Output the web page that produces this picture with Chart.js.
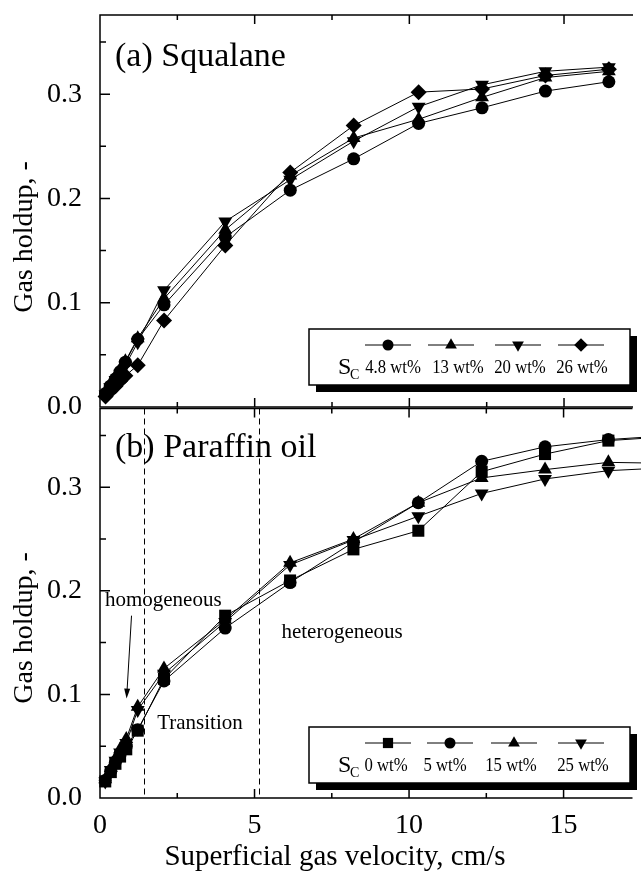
<!DOCTYPE html>
<html lang="en">
<head>
<meta charset="UTF-8">
<title>Gas holdup vs superficial gas velocity</title>
<script src="https://cdn.jsdelivr.net/npm/chart.js"></script>
<style>
  html, body { margin: 0; padding: 0; background: #fff; overflow: hidden; }
  #wrap { position: relative; width: 641px; height: 883px; }
  canvas { position: absolute; left: 0; }
  #chartA { top: 0; }
  #chartB { top: 400px; }
</style>
</head>
<body>
<div id="wrap">
  <canvas id="chartA" width="641" height="425"></canvas>
  <canvas id="chartB" width="641" height="483"></canvas>
</div>
<script>
// ---- data ----
// (a) Squalane, superficial gas velocity in cm/s
const velA = [0.18, 0.33, 0.5, 0.65, 0.82, 1.22, 2.07, 4.05, 6.15, 8.2, 10.3, 12.35, 14.4, 16.45];
const squalane48 = [0.013, 0.020, 0.027, 0.034, 0.043, 0.065, 0.098, 0.163, 0.208, 0.238, 0.272, 0.287, 0.303, 0.312];
const squalane13 = [0.014, 0.022, 0.029, 0.036, 0.044, 0.066, 0.104, 0.170, 0.222, 0.258, 0.276, 0.297, 0.316, 0.322];
const squalane20 = [0.012, 0.019, 0.026, 0.032, 0.040, 0.062, 0.112, 0.178, 0.218, 0.255, 0.288, 0.309, 0.322, 0.326];
const squalane26 = [0.010, 0.015, 0.020, 0.025, 0.030, 0.040, 0.083, 0.155, 0.225, 0.270, 0.302, 0.305, 0.318, 0.324];
const labelsA = ['4.8 wt%', '13 wt%', '20 wt%', '26 wt%'];

// (b) Paraffin oil (last point lies past the right edge of the frame)
const velB = [0.17, 0.35, 0.5, 0.65, 0.85, 1.22, 2.07, 4.05, 6.15, 8.2, 10.3, 12.35, 14.4, 16.45, 18.5];
const paraffin0  = [0.016, 0.025, 0.033, 0.040, 0.047, 0.065, 0.115, 0.176, 0.210, 0.240, 0.258, 0.315, 0.332, 0.345, 0.349];
const paraffin5  = [0.017, 0.026, 0.035, 0.042, 0.050, 0.066, 0.113, 0.164, 0.208, 0.247, 0.285, 0.325, 0.339, 0.346, 0.350];
const paraffin15 = [0.018, 0.029, 0.038, 0.047, 0.057, 0.088, 0.125, 0.172, 0.227, 0.250, 0.285, 0.309, 0.317, 0.324, 0.323];
const paraffin25 = [0.016, 0.027, 0.036, 0.044, 0.053, 0.085, 0.120, 0.170, 0.225, 0.249, 0.272, 0.294, 0.308, 0.316, 0.319];
const labelsB = ['0 wt%', '5 wt%', '15 wt%', '25 wt%'];

const xTicks = [0, 5, 10, 15];
const xMinorTicks = [2.5, 7.5, 12.5];
const yTicks = [0, 0.1, 0.2, 0.3];
const yMinorTicks = [0.05, 0.15, 0.25, 0.35];
const regimeBounds = [1.43, 5.13];

// ---- styles ----
const FONT = '"Liberation Serif", "Times New Roman", serif';
const X_MAX = 17.23, Y_MAX = 0.376;
const markersA = [
  { style: 'circle', r: 6.5, rot: 0 },
  { style: 'triangle', r: 8, rot: 0 },
  { style: 'triangle', r: 8, rot: 180 },
  { style: 'rectRot', r: 8, rot: 0 }
];
const markersB = [
  { style: 'rect', r: 8.5, rot: 0 },
  { style: 'circle', r: 6.5, rot: 0 },
  { style: 'triangle', r: 8, rot: 0 },
  { style: 'triangle', r: 8, rot: 180 }
];

function makeDatasets(vel, series, markers, labels) {
  return series.map((vals, i) => ({
    label: labels[i],
    data: vals.map((v, j) => ({ x: vel[j], y: v })),
    borderColor: '#000',
    borderWidth: 1,
    backgroundColor: '#000',
    pointStyle: markers[i].style,
    pointRadius: markers[i].r,
    pointHoverRadius: markers[i].r,
    pointRotation: markers[i].rot,
    pointBackgroundColor: '#000',
    pointBorderColor: '#000',
    pointBorderWidth: 0,
    tension: 0,
    fill: false,
    clip: false
  }));
}

function baseOptions(showX, padding) {
  return {
    responsive: false,
    animation: false,
    events: [],
    layout: { padding: padding },
    plugins: { legend: { display: false }, tooltip: { enabled: false } },
    scales: {
      x: {
        type: 'linear', min: 0, max: X_MAX, display: showX,
        grid: { display: false }, border: { display: false },
        ticks: { font: { family: FONT, size: 28 }, color: '#000', padding: 3, maxRotation: 0 },
        afterBuildTicks: s => { s.ticks = xTicks.map(v => ({ value: v })); },
        afterFit: s => { s.paddingLeft = 0; s.paddingRight = 0; if (showX) s.height = 85; }
      },
      y: {
        type: 'linear', min: 0, max: Y_MAX,
        grid: { display: false }, border: { display: false },
        ticks: { font: { family: FONT, size: 28 }, color: '#000', padding: 10, callback: v => v.toFixed(1) },
        afterBuildTicks: s => { s.ticks = yTicks.map(v => ({ value: v })); },
        afterFit: s => { s.width = 100; s.paddingTop = 0; s.paddingBottom = 0; }
      }
    }
  };
}

// frame + inward ticks
function drawFrame(chart) {
  const { ctx, chartArea: a, scales: { x, y } } = chart;
  ctx.save();
  ctx.strokeStyle = '#000';
  ctx.lineWidth = 1.5;
  ctx.beginPath();
  ctx.moveTo(a.left, a.top); ctx.lineTo(a.right, a.top);
  ctx.moveTo(a.left, a.bottom); ctx.lineTo(a.right, a.bottom);
  ctx.moveTo(a.left, a.top - 0.75); ctx.lineTo(a.left, a.bottom + 0.75);
  const xt = (v, len) => {
    const px = x.getPixelForValue(v);
    ctx.moveTo(px, a.top); ctx.lineTo(px, a.top + len);
    ctx.moveTo(px, a.bottom); ctx.lineTo(px, a.bottom - len);
  };
  xTicks.forEach(v => xt(v, 9));
  xMinorTicks.forEach(v => xt(v, 5));
  const yt = (v, len) => {
    const py = y.getPixelForValue(v);
    ctx.moveTo(a.left, py); ctx.lineTo(a.left + len, py);
  };
  yTicks.forEach(v => yt(v, 10));
  yMinorTicks.forEach(v => yt(v, 6));
  ctx.stroke();
  ctx.restore();
}

function drawYTitle(chart, cy) {
  const ctx = chart.ctx;
  ctx.save();
  ctx.translate(25, cy);
  ctx.rotate(-Math.PI / 2);
  ctx.font = '28px ' + FONT;
  ctx.fillStyle = '#000';
  ctx.textAlign = 'center';
  ctx.textBaseline = 'middle';
  ctx.fillText('Gas holdup, -', 0, 0);
  ctx.restore();
}

function drawPanelTitle(chart, text, x, baseline) {
  const ctx = chart.ctx;
  ctx.save();
  ctx.font = '34px ' + FONT;
  ctx.fillStyle = '#000';
  ctx.textAlign = 'left';
  ctx.textBaseline = 'alphabetic';
  ctx.fillText(text, x, baseline);
  ctx.restore();
}

function marker(ctx, style, r, rot, x, y) {
  if (Chart.helpers && Chart.helpers.drawPoint) {
    Chart.helpers.drawPoint(ctx, { pointStyle: style, radius: r, rotation: rot, borderWidth: 0 }, x, y);
  } else {
    ctx.beginPath(); ctx.arc(x, y, r, 0, Math.PI * 2); ctx.fill();
  }
}

function drawLegend(chart, box, markers) {
  const ctx = chart.ctx;
  ctx.save();
  ctx.fillStyle = '#000';
  ctx.fillRect(box.left + 7, box.top + 7, box.w, box.h);
  ctx.fillStyle = '#fff';
  ctx.fillRect(box.left, box.top, box.w, box.h);
  ctx.strokeStyle = '#000';
  ctx.lineWidth = 1.5;
  ctx.strokeRect(box.left, box.top, box.w, box.h);

  ctx.fillStyle = '#000';
  ctx.textBaseline = 'alphabetic';
  ctx.textAlign = 'left';
  ctx.font = '24px ' + FONT;
  ctx.fillText('S', box.left + 29, box.top + 45);
  ctx.font = '14px ' + FONT;
  ctx.fillText('C', box.left + 41, box.top + 50);

  chart.data.datasets.forEach((ds, i) => {
    const mx = box.left + box.markerX[i];
    const my = box.top + 16;
    ctx.lineWidth = 1;
    ctx.beginPath();
    ctx.moveTo(mx - 23, my); ctx.lineTo(mx + 23, my);
    ctx.stroke();
    marker(ctx, markers[i].style, markers[i].r * 0.85, markers[i].rot, mx, my);
    ctx.save();
    ctx.translate(box.left + box.labelX[i], box.top + 44);
    ctx.scale(0.88, 1);
    ctx.font = '19px ' + FONT;
    ctx.textAlign = 'center';
    ctx.fillText(ds.label, 0, 0);
    ctx.restore();
  });
  ctx.restore();
}

// ---- panel (a) ----
const legendBoxA = { left: 309, top: 329, w: 321, h: 56, markerX: [79, 142, 209, 272], labelX: [84, 149, 211, 273] };
new Chart(document.getElementById('chartA'), {
  type: 'line',
  data: { datasets: makeDatasets(velA, [squalane48, squalane13, squalane20, squalane26], markersA, labelsA) },
  options: baseOptions(false, { top: 15, bottom: 18, left: 0, right: 0 }),
  plugins: [{
    id: 'panelA',
    afterDatasetsDraw(chart) {
      drawLegend(chart, legendBoxA, markersA);
    },
    afterDraw(chart) {
      drawFrame(chart);
      drawPanelTitle(chart, '(a) Squalane', 115, 66);
      drawYTitle(chart, 237);
    }
  }]
});

// ---- panel (b) ----
const legendBoxB = { left: 309, top: 327, w: 321, h: 56, markerX: [79, 141, 205, 272], labelX: [77, 136, 202, 274] };
const regimeNotes = [
  { text: 'homogeneous', x: 0.16, y: 0.185 },
  { text: 'Transition', x: 1.85, y: 0.067 },
  { text: 'heterogeneous', x: 5.87, y: 0.154 }
];
const regimeArrow = { from: [1.02, 0.176], to: [0.86, 0.096] };

new Chart(document.getElementById('chartB'), {
  type: 'line',
  data: { datasets: makeDatasets(velB, [paraffin0, paraffin5, paraffin15, paraffin25], markersB, labelsB) },
  options: baseOptions(true, { top: 7, bottom: 0, left: 0, right: 0 }),
  plugins: [{
    id: 'panelB',
    beforeDatasetsDraw(chart) {
      const { ctx, chartArea: a, scales: { x, y } } = chart;
      ctx.save();
      ctx.strokeStyle = '#000';
      ctx.lineWidth = 1;
      ctx.setLineDash([6, 4]);
      ctx.beginPath();
      regimeBounds.forEach(v => {
        const px = Math.round(x.getPixelForValue(v)) + 0.5;
        ctx.moveTo(px, a.top); ctx.lineTo(px, a.bottom);
      });
      ctx.stroke();
      ctx.setLineDash([]);

      ctx.fillStyle = '#000';
      ctx.font = '21px ' + FONT;
      ctx.textAlign = 'left';
      ctx.textBaseline = 'alphabetic';
      regimeNotes.forEach(n => ctx.fillText(n.text, x.getPixelForValue(n.x), y.getPixelForValue(n.y)));

      const x0 = x.getPixelForValue(regimeArrow.from[0]), y0 = y.getPixelForValue(regimeArrow.from[1]);
      const x1 = x.getPixelForValue(regimeArrow.to[0]), y1 = y.getPixelForValue(regimeArrow.to[1]);
      const ang = Math.atan2(y1 - y0, x1 - x0);
      ctx.beginPath();
      ctx.moveTo(x0, y0); ctx.lineTo(x1 - 8 * Math.cos(ang), y1 - 8 * Math.sin(ang));
      ctx.stroke();
      ctx.beginPath();
      ctx.moveTo(x1, y1);
      ctx.lineTo(x1 - 10 * Math.cos(ang) + 3 * Math.sin(ang), y1 - 10 * Math.sin(ang) - 3 * Math.cos(ang));
      ctx.lineTo(x1 - 10 * Math.cos(ang) - 3 * Math.sin(ang), y1 - 10 * Math.sin(ang) + 3 * Math.cos(ang));
      ctx.closePath();
      ctx.fill();
      ctx.restore();
    },
    afterDatasetsDraw(chart) {
      drawLegend(chart, legendBoxB, markersB);
    },
    afterDraw(chart) {
      drawFrame(chart);
      drawPanelTitle(chart, '(b) Paraffin oil', 115, 57);
      drawYTitle(chart, 228);
      const ctx = chart.ctx;
      ctx.save();
      ctx.font = '29px ' + FONT;
      ctx.fillStyle = '#000';
      ctx.textAlign = 'center';
      ctx.textBaseline = 'middle';
      ctx.fillText('Superficial gas velocity, cm/s', 335, 457);
      ctx.restore();
    }
  }]
});
</script>
</body>
</html>
